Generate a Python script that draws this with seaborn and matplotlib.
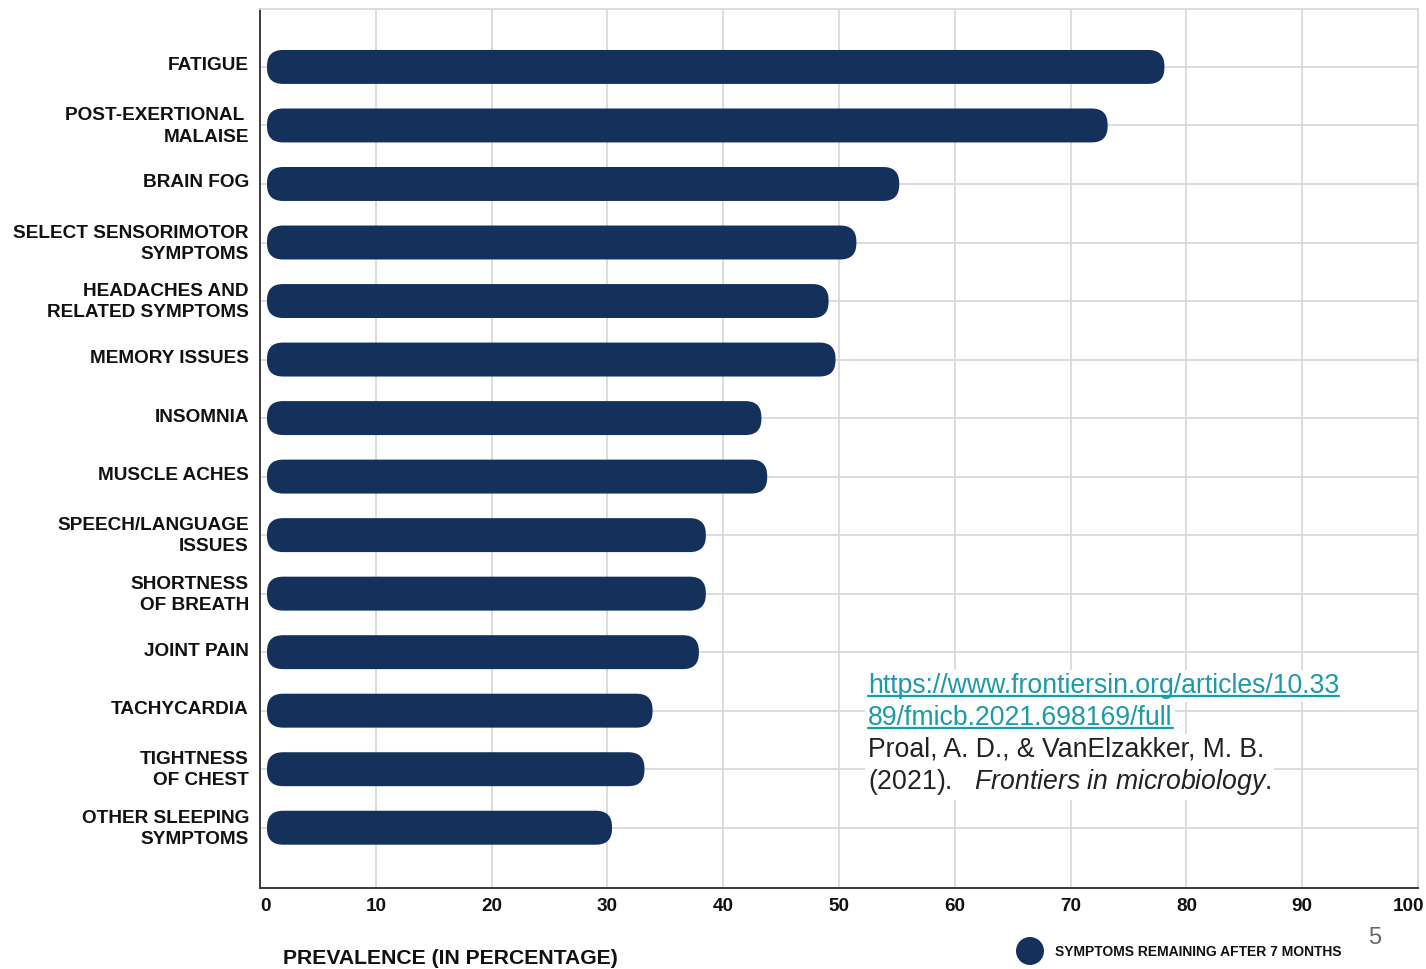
import matplotlib
matplotlib.use("Agg")
import numpy as np
import pandas as pd
import seaborn as sns
import matplotlib.pyplot as plt
from matplotlib.patches import FancyBboxPatch, Ellipse
from matplotlib.lines import Line2D
from matplotlib.transforms import ScaledTranslation

# ---------------- data ----------------
symptoms = [
    "FATIGUE",
    "POST-EXERTIONAL \nMALAISE",
    "BRAIN FOG",
    "SELECT SENSORIMOTOR\nSYMPTOMS",
    "HEADACHES AND\nRELATED SYMPTOMS",
    "MEMORY ISSUES",
    "INSOMNIA",
    "MUSCLE ACHES",
    "SPEECH/LANGUAGE\nISSUES",
    "SHORTNESS\nOF BREATH",
    "JOINT PAIN",
    "TACHYCARDIA",
    "TIGHTNESS\nOF CHEST",
    "OTHER SLEEPING\nSYMPTOMS",
]
prevalence = [78.1, 73.2, 55.2, 51.5, 49.1, 49.7, 43.3, 43.8, 38.5, 38.5, 37.9, 33.9, 33.2, 30.4]
x_ticks = [0, 10, 20, 30, 40, 50, 60, 70, 80, 90, 100]
x_label = "PREVALENCE (IN PERCENTAGE)"
legend_label = "SYMPTOMS REMAINING AFTER 7 MONTHS"
page_number = "5"
link_lines = ["https://www.frontiersin.org/articles/10.33", "89/fmicb.2021.698169/full"]
cite_authors = "Proal, A. D., & VanElzakker, M. B."
cite_journal_line = r"(2021).   $\mathit{Frontiers\ in\ microbiology}$."

# ---------------- style ----------------
NAVY = "#14315C"
GRID = "#D9D9D9"
SPINE = "#3A3A3A"
TEAL = "#1C9AA8"
W, H = 1426, 969

sns.set_theme(style="white")
plt.rcParams["font.family"] = ["Liberation Sans", "DejaVu Sans"]
plt.rcParams["mathtext.fontset"] = "custom"
plt.rcParams["mathtext.rm"] = "Liberation Sans"
plt.rcParams["mathtext.it"] = "Liberation Sans:italic"

fig = plt.figure(figsize=(W / 100, H / 100), dpi=100)
fig.patch.set_facecolor("white")
ax = fig.add_axes([260 / W, 1 - 888 / H, (1418 - 260) / W, (888 - 9) / H])

df = pd.DataFrame({"symptom": symptoms, "prevalence": prevalence})
sns.barplot(data=df, x="prevalence", y="symptom", orient="h", color=NAVY,
            saturation=1, width=0.58, ax=ax, zorder=3)

ax.set_xlim(0, 100)
ax.set_ylim(len(symptoms) + 0.03, -0.99)
ax.set_xticks(x_ticks)
ax.set_xticklabels([str(t) for t in x_ticks])
ax.set_xlabel("")
ax.set_ylabel("")

ax.grid(True, axis="both", color=GRID, linewidth=1.3, zorder=0)
ax.set_axisbelow(True)
for s in ["top", "right"]:
    ax.spines[s].set_color(GRID)
    ax.spines[s].set_linewidth(1.3)
for s in ["left", "bottom"]:
    ax.spines[s].set_color(SPINE)
    ax.spines[s].set_linewidth(1.4)

ax.tick_params(axis="y", length=0, pad=8, labelsize=13.7, labelcolor="#111111")
ax.tick_params(axis="x", length=0, pad=7, labelsize=13.6, labelcolor="#111111")
up = ScaledTranslation(0, 3 / 100, fig.dpi_scale_trans)
for lab in ax.get_yticklabels():
    lab.set_fontweight("bold")
    lab.set_linespacing(1.32)
    lab.set_transform(lab.get_transform() + up)
for lab in ax.get_xticklabels():
    lab.set_fontweight("bold")
xl = ax.get_xticklabels()
xl[0].set_horizontalalignment("left")
xl[-1].set_transform(xl[-1].get_transform() + ScaledTranslation(-9 / 100, 0, fig.dpi_scale_trans))

# rounded bars built from seaborn's bar geometry
fig.canvas.draw()
p0 = ax.transData.transform((0, 0))
p1 = ax.transData.transform((1, 1))
px_x = abs(p1[0] - p0[0])
px_y = abs(p1[1] - p0[1])
aspect = px_x / px_y
r_px = 16.0
inset = 7.0 / px_x
for p in list(ax.patches):
    x0, y0, w, h = p.get_x(), p.get_y(), p.get_width(), p.get_height()
    p.set_visible(False)
    rr = r_px / px_x
    fb = FancyBboxPatch((x0 + inset, y0), w - inset, h,
                        boxstyle=f"round,pad=0,rounding_size={rr}",
                        mutation_aspect=aspect, fc=NAVY, ec="none", zorder=3)
    ax.add_patch(fb)

# x label
fig.text(283 / W, 1 - 959 / H, x_label, ha="left", va="center",
         fontsize=15.2, fontweight="bold", color="#111111")

# legend
fig.patches.append(Ellipse((1030 / W, 1 - 951 / H), 28 / W, 28 / H, transform=fig.transFigure,
                           fc=NAVY, ec="none"))
fig.text(1055 / W, 1 - 952 / H, legend_label, ha="left", va="center",
         fontsize=10, fontweight="bold", color="#111111")
fig.text(1375 / W, 1 - 938 / H, page_number, ha="center", va="center",
         fontsize=17, color="#666666")

# citation block
fs = 19.2
x_start = 868
baselines = [693, 725, 757, 789]
bg = dict(facecolor="white", edgecolor="none", pad=2)
link_texts = []
for i, line in enumerate(link_lines):
    t = fig.text(x_start / W, 1 - baselines[i] / H, line, ha="left", va="baseline",
                 fontsize=fs, color=TEAL, bbox=bg, zorder=5)
    link_texts.append(t)
fig.text(x_start / W, 1 - baselines[2] / H, cite_authors, ha="left", va="baseline",
         fontsize=fs, color="#222222", bbox=bg, zorder=5)
fig.text(x_start / W, 1 - baselines[3] / H, cite_journal_line, ha="left", va="baseline",
         fontsize=fs, color="#222222", bbox=bg, zorder=5)

fig.canvas.draw()
rend = fig.canvas.get_renderer()
for i, t in enumerate(link_texts):
    bb = t.get_window_extent(rend)
    yline = H - (baselines[i] + 3)
    fig.add_artist(Line2D([bb.x0 / W, bb.x1 / W], [yline / H, yline / H],
                          transform=fig.transFigure, color=TEAL, linewidth=1.6, zorder=6))

fig.savefig("out.png", dpi=100, facecolor="white")
